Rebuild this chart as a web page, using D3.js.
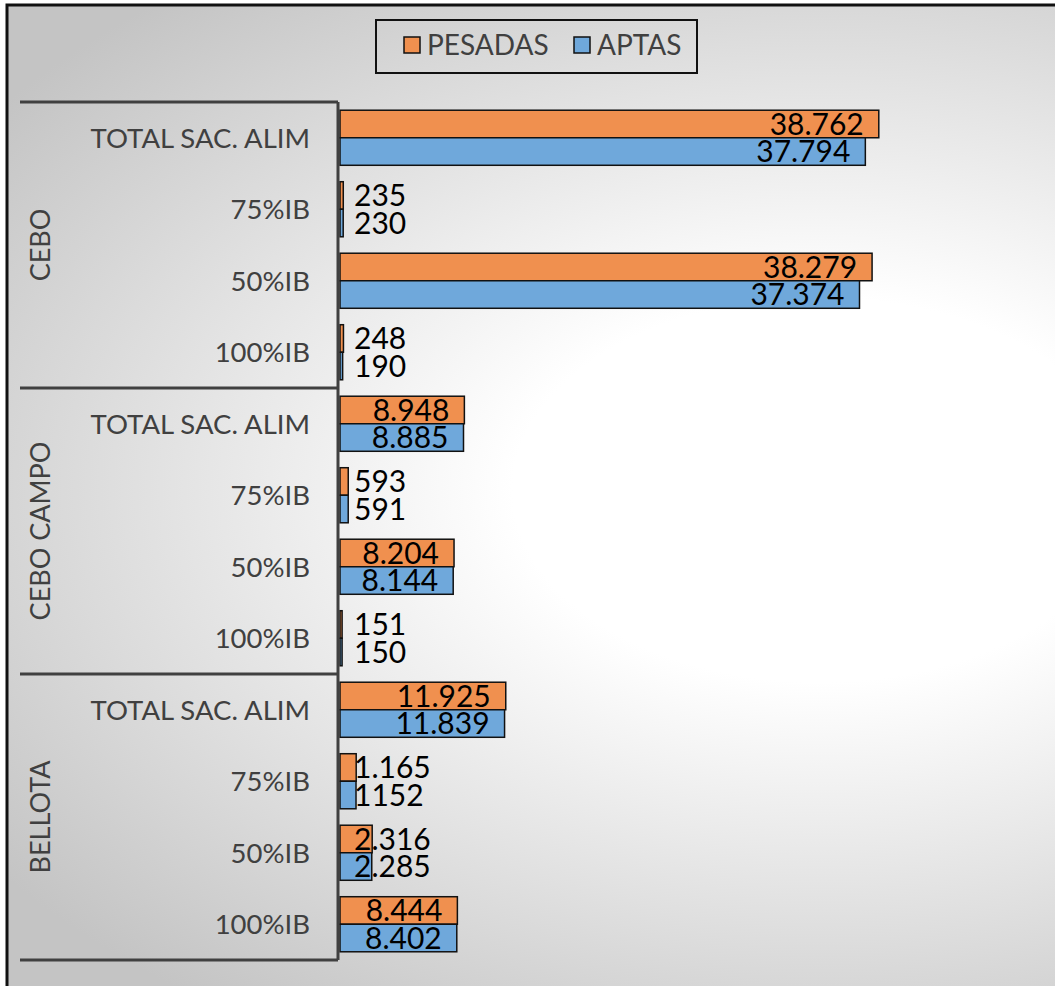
<!DOCTYPE html>
<html>
<head>
<meta charset="utf-8">
<script src="https://cdn.jsdelivr.net/npm/d3@7"></script>
<style>
  body { margin: 0; background: #fff; }
  svg { display: block; }
</style>
</head>
<body>
<script>
var groupNames = ["CEBO", "CEBO CAMPO", "BELLOTA"];
var categories = ["TOTAL SAC. ALIM", "75%IB", "50%IB", "100%IB"];
var series = ["PESADAS", "APTAS"];
var colors = ["#f0904f", "#6fa8db"];

var pesadas = [38762, 235, 38279, 248, 8948, 593, 8204, 151, 11925, 1165, 2316, 8444];
var aptas = [37794, 230, 37374, 190, 8885, 591, 8144, 150, 11839, 1152, 2285, 8402];
var pesadasLabels = ["38.762", "235", "38.279", "248", "8.948", "593", "8.204", "151", "11.925", "1.165", "2.316", "8.444"];
var aptasLabels = ["37.794", "230", "37.374", "190", "8.885", "591", "8.144", "150", "11.839", "1152", "2.285", "8.402"];

var width = 1055,
height = 986;

var svg = d3.select("body").append("svg")
.attr("width", width)
.attr("height", height)

// elliptical glow behind the plot
var defs = svg.append("defs")
var grad = defs.append("radialGradient")
.attr("id", "bg")
.attr("gradientUnits", "userSpaceOnUse")
.attr("cx", 820).attr("cy", 490).attr("r", 640)
.attr("gradientTransform", "translate(820 490) scale(1.6 1) translate(-820 -490)")
grad.append("stop").attr("offset", "0").attr("stop-color", "#ffffff")
grad.append("stop").attr("offset", "0.3").attr("stop-color", "#ffffff")
grad.append("stop").attr("offset", "1").attr("stop-color", "#c4c4c4")

// frame
svg.append("rect")
.attr("x", 7).attr("y", 5)
.attr("width", width + 20).attr("height", height + 20)
.attr("fill", "url(#bg)")
.attr("stroke", "#111")
.attr("stroke-width", 3)

// rows
var rows = [];
groupNames.forEach(function(g, gi) {
  categories.forEach(function(c, ci) {
    var i = gi * categories.length + ci;
    rows.push({ id: i, group: g, cat: c, values: [pesadas[i], aptas[i]], labels: [pesadasLabels[i], aptasLabels[i]] });
  });
});

var yTop = 102, yBottom = 960, axisX = 338;

var y = d3.scaleBand().domain(rows.map(function(d) { return d.id })).range([yTop, yBottom]).paddingInner(0.23).paddingOuter(0.115)
var ySub = d3.scaleBand().domain([0, 1]).range([0, y.bandwidth()])
var x = d3.scaleLinear().domain([0, 40000]).range([340, 896])

var rowG = svg.selectAll("g.row")
.data(rows)
.enter().append("g")
.attr("class", "row")
.attr("transform", function(d) { return "translate(0 " + y(d.id) + ")" })

rowG.selectAll("rect")
.data(function(d) { return d.values.map(function(v, k) { return { v: v, k: k, label: d.labels[k] } }) })
.enter().append("rect")
.attr("x", x(0))
.attr("y", function(d) { return ySub(d.k) })
.attr("width", function(d) { return x(d.v) - x(0) })
.attr("height", ySub.bandwidth())
.attr("fill", function(d) { return colors[d.k] })
.attr("stroke", "#111")
.attr("stroke-width", 1.5)

rowG.selectAll("text.val")
.data(function(d) { return d.values.map(function(v, k) { return { v: v, k: k, label: d.labels[k] } }) })
.enter().append("text")
.attr("class", "val")
.text(function(d) { return d.label })
.attr("font-family", "Lato, 'Noto Sans', sans-serif")
.attr("font-size", 30)
.attr("fill", "#000")
.attr("text-anchor", "end")
.attr("y", function(d) { return ySub(d.k) + ySub.bandwidth() / 2 })
.attr("dy", "0.36em")
.attr("x", function(d) {
  var w = this.getComputedTextLength();
  return Math.max(x(d.v) - 15, x(0) + 14 + w)
})

// category labels
rowG.append("text")
.text(function(d) { return d.cat })
.attr("font-family", "Lato, 'Noto Sans', sans-serif")
.attr("font-size", 27.5)
.attr("fill", "#404040")
.attr("text-anchor", "end")
.attr("x", 310)
.attr("y", y.bandwidth() / 2)
.attr("dy", "0.36em")

// group separators and labels
var step = (yBottom - yTop) / groupNames.length;
var sepY = d3.range(groupNames.length + 1).map(function(i) { return yTop + i * step });

svg.selectAll("line.sep")
.data(sepY)
.enter().append("line")
.attr("x1", 20).attr("x2", axisX)
.attr("y1", function(d) { return d }).attr("y2", function(d) { return d })
.attr("stroke", "#404040")
.attr("stroke-width", 3)

svg.append("line")
.attr("x1", axisX).attr("x2", axisX)
.attr("y1", yTop).attr("y2", yBottom)
.attr("stroke", "#404040")
.attr("stroke-width", 3)

svg.selectAll("text.grp")
.data(groupNames)
.enter().append("text")
.attr("class", "grp")
.text(function(d) { return d })
.attr("font-family", "Lato, 'Noto Sans', sans-serif")
.attr("font-size", 27)
.attr("fill", "#404040")
.attr("text-anchor", "middle")
.attr("transform", function(d, i) { return "translate(40 " + (yTop + step * (i + 0.5)) + ") rotate(-90)" })
.attr("dy", "0.36em")

// legend
var legend = svg.append("g")
legend.append("rect")
.attr("x", 376).attr("y", 20)
.attr("width", 321).attr("height", 53)
.attr("fill", "none")
.attr("stroke", "#111")
.attr("stroke-width", 2)

var legX = [404, 574];
var items = legend.selectAll("g.item")
.data(series)
.enter().append("g")
.attr("transform", function(d, i) { return "translate(" + legX[i] + " 37)" })
items.append("rect")
.attr("width", 16).attr("height", 16)
.attr("fill", function(d, i) { return colors[i] })
.attr("stroke", "#111")
.attr("stroke-width", 1.5)
items.append("text")
.text(function(d) { return d })
.attr("x", 23)
.attr("y", 8)
.attr("dy", "0.36em")
.attr("font-family", "Lato, 'Noto Sans', sans-serif")
.attr("font-size", 28)
.attr("fill", "#404040")
</script>
</body>
</html>
